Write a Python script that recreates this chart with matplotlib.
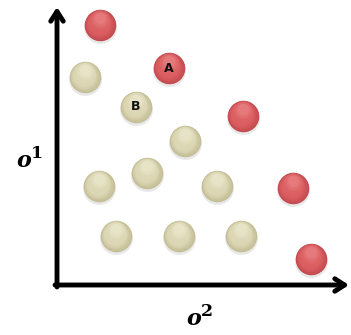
import matplotlib
matplotlib.use("Agg")
import matplotlib.pyplot as plt
import numpy as np

# data (o2 = horizontal objective, o1 = vertical objective)
red_o2 = [43, 112, 186, 236, 254]
red_o1 = [260, 217, 169, 97, 26]
beige_o2 = [28, 79, 128, 42, 90, 160, 59, 122, 184]
beige_o1 = [208, 178, 144, 99, 112, 99, 49, 49, 49]
labels = {"A": (112, 217), "B": (79, 178)}

fig = plt.figure(figsize=(3.51, 3.35), dpi=100)
ax = fig.add_axes([0, 0, 1, 1])
ax.set_xlim(-57, 294)
ax.set_ylim(-50, 285)
ax.axis('off')

def balls(x, y, base, edge, light):
    x = np.asarray(x, float); y = np.asarray(y, float)
    d = 31.5 * 0.72
    # soft shadow
    ax.scatter(x + 0.3, y - 1.5, s=(d + 1.0) ** 2, color=(0.7, 0.7, 0.7), alpha=0.3, lw=0, zorder=2)
    ax.scatter(x, y, s=d ** 2, color=edge, lw=0, zorder=3)
    n = 8
    for i in range(1, n + 1):
        t = i / n
        col = tuple(np.array(edge) * (1 - t) + np.array(base) * t)
        ax.scatter(x - 0.15 * i, y + 0.25 * i, s=(d * (1 - 0.035 * i)) ** 2, color=col, lw=0, zorder=3 + i * 0.01)
    # soft highlight on upper part
    for i in range(1, 5):
        t = i / 4
        col = tuple(np.array(base) * (1 - t) + np.array(light) * t)
        ax.scatter(x - 0.5, y + 4 + 0.8 * i, s=(d * (0.75 - 0.1 * i)) ** 2, color=col, alpha=0.35, lw=0, zorder=4)

balls(red_o2, red_o1, base=(0.86, 0.37, 0.38), edge=(0.76, 0.29, 0.31), light=(0.93, 0.55, 0.56))
balls(beige_o2, beige_o1, base=(0.86, 0.84, 0.70), edge=(0.76, 0.74, 0.58), light=(0.94, 0.93, 0.84))

for t, (px, py) in labels.items():
    ax.text(px, py, t, ha='center', va='center', fontsize=9, fontweight='bold',
            family='DejaVu Sans', color='#111111', zorder=10)

# axes arrows
ax.annotate('', xy=(292, 0), xytext=(-2, 0),
            arrowprops=dict(arrowstyle='->,head_length=0.7,head_width=0.45', lw=3.5,
                            color='black', shrinkA=0, shrinkB=0), zorder=5)
ax.annotate('', xy=(0, 278), xytext=(0, -2),
            arrowprops=dict(arrowstyle='->,head_length=0.7,head_width=0.45', lw=3.5,
                            color='black', shrinkA=0, shrinkB=0), zorder=5)

# axis labels: bold italic "o" with bold superscript digit
def olabel(x, y, digit):
    ax.text(x, y, 'o', fontsize=16, family='DejaVu Serif', fontweight='bold', style='italic',
            ha='center', va='baseline')
    ax.text(x + 13, y + 9, digit, fontsize=12.5, family='DejaVu Serif', fontweight='bold',
            ha='center', va='baseline')

olabel(-33, 118, '1')
olabel(137, -40, '2')

fig.savefig('out.png', dpi=100)
